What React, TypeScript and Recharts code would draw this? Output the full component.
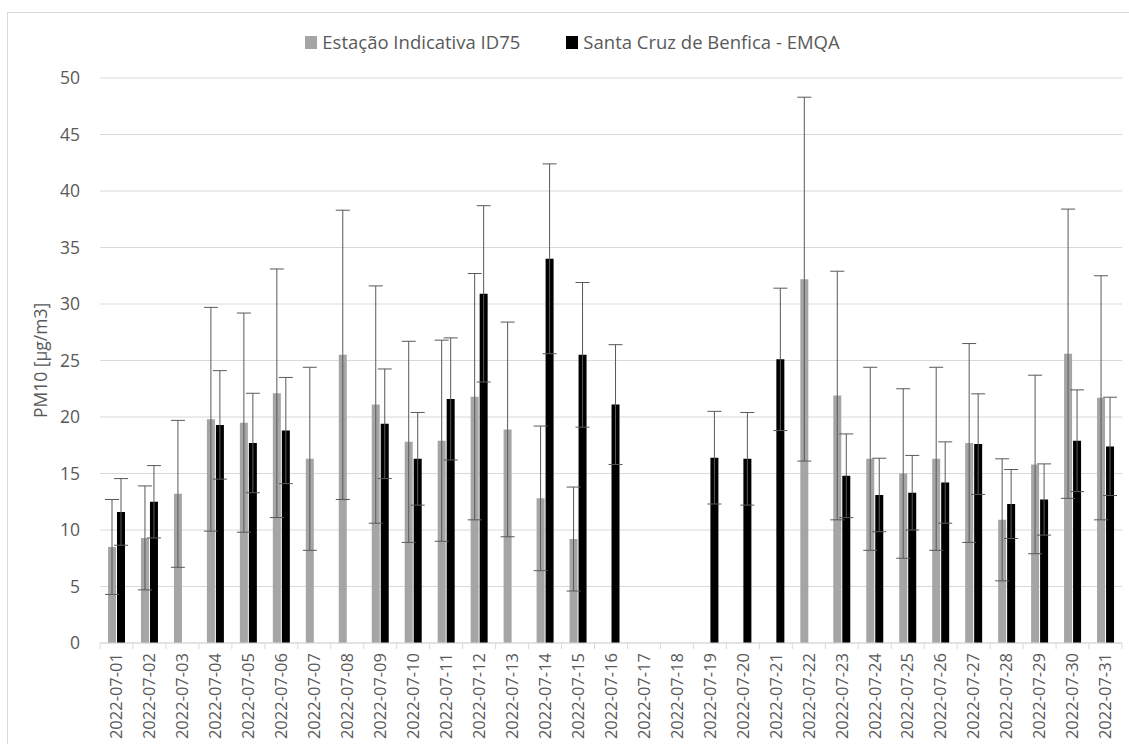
import { BarChart, Bar, XAxis, YAxis, CartesianGrid, Legend, ErrorBar } from "recharts"

const dates = [
  "2022-07-01", "2022-07-02", "2022-07-03", "2022-07-04", "2022-07-05", "2022-07-06", "2022-07-07", "2022-07-08",
  "2022-07-09", "2022-07-10", "2022-07-11", "2022-07-12", "2022-07-13", "2022-07-14", "2022-07-15", "2022-07-16",
  "2022-07-17", "2022-07-18", "2022-07-19", "2022-07-20", "2022-07-21", "2022-07-22", "2022-07-23", "2022-07-24",
  "2022-07-25", "2022-07-26", "2022-07-27", "2022-07-28", "2022-07-29", "2022-07-30", "2022-07-31",
]

// Estação Indicativa ID75 (média diária e desvio padrão)
const id75Mean = [
  8.5, 9.3, 13.2, 19.8, 19.5, 22.1, 16.3, 25.5, 21.1, 17.8, 17.9, 21.8, 18.9, 12.8, 9.2, null,
  null, null, null, null, null, 32.2, 21.9, 16.3, 15.0, 16.3, 17.7, 10.9, 15.8, 25.6, 21.7,
]
const id75Sd = [
  4.2, 4.6, 6.5, 9.9, 9.7, 11.0, 8.1, 12.8, 10.5, 8.9, 8.9, 10.9, 9.5, 6.4, 4.6, null,
  null, null, null, null, null, 16.1, 11.0, 8.1, 7.5, 8.1, 8.8, 5.4, 7.9, 12.8, 10.8,
]

// Santa Cruz de Benfica - EMQA
const emqaMean = [
  11.6, 12.5, null, 19.3, 17.7, 18.8, null, null, 19.4, 16.3, 21.6, 30.9, null, 34.0, 25.5, 21.1,
  null, null, 16.4, 16.3, 25.1, null, 14.8, 13.1, 13.3, 14.2, 17.6, 12.3, 12.7, 17.9, 17.4,
]
const emqaSd = [
  2.95, 3.2, null, 4.8, 4.4, 4.7, null, null, 4.85, 4.1, 5.4, 7.8, null, 8.4, 6.4, 5.3,
  null, null, 4.1, 4.1, 6.3, null, 3.7, 3.25, 3.3, 3.6, 4.45, 3.05, 3.15, 4.5, 4.35,
]

const yTicks = [0, 5, 10, 15, 20, 25, 30, 35, 40, 45, 50]

const seriesNames = ["Estação Indicativa ID75", "Santa Cruz de Benfica - EMQA"]

const data = dates.map((d, i) => ({
  date: d,
  id75: id75Mean[i],
  id75Err: id75Sd[i],
  emqa: emqaMean[i],
  emqaErr: emqaSd[i],
}))

const FONT = "'Open Sans', 'DejaVu Sans', sans-serif"
const TEXT = "#595959"
const LINE = "#d9d9d9"

function DateTick(props: any) {
  const { x, y, payload, index, visibleTicksCount, width } = props
  const half = (width ?? 1023) / visibleTicksCount / 2
  const axisY = y - 8
  return (
    <g>
      <line x1={x - half} x2={x - half} y1={axisY} y2={axisY + 6} stroke={LINE} />
      {index === visibleTicksCount - 1 && (
        <line x1={x + half} x2={x + half} y1={axisY} y2={axisY + 6} stroke={LINE} />
      )}
      <text
        x={x}
        y={y + 2}
        transform={`rotate(-90, ${x}, ${y + 2})`}
        textAnchor="end"
        dy="0.35em"
        fill={TEXT}
        fontSize={16.5}
        fontFamily={FONT}
      >
        {payload.value}
      </text>
    </g>
  )
}

function renderLegend(props: any) {
  const { payload } = props
  return (
    <div
      style={{
        display: "flex",
        justifyContent: "center",
        gap: 46,
        paddingLeft: 16,
        fontFamily: FONT,
        fontSize: 18.5,
        color: TEXT,
        lineHeight: "24px",
      }}
    >
      {payload.map((p: any) => (
        <div key={p.value} style={{ display: "flex", alignItems: "center" }}>
          <span style={{ display: "inline-block", width: 12, height: 13, background: p.color, marginRight: 5 }} />
          <span>{p.value}</span>
        </div>
      ))}
    </div>
  )
}

export default function App() {
  return (
    <div style={{ position: "absolute", left: 0, top: 0, width: 1129, height: 744, background: "#fff", overflow: "hidden" }}>
      <div
        style={{
          position: "absolute",
          left: 7,
          top: 12,
          width: 1140,
          height: 760,
          border: `1px solid ${LINE}`,
        }}
      />
      <BarChart
        width={1129}
        height={744}
        data={data}
        margin={{ top: 78, right: 7, left: 0, bottom: 0 }}
        barSize={8}
        barGap={1}
        style={{ position: "absolute", left: 0, top: 0 }}
      >
        <CartesianGrid vertical={false} stroke={LINE} />
        <XAxis
          dataKey="date"
          interval={0}
          height={101}
          tickSize={6}
          tickMargin={2}
          tickLine={false}
          axisLine={{ stroke: LINE }}
          tick={<DateTick />}
        />
        <YAxis
          width={100}
          domain={[0, 50]}
          ticks={yTicks}
          interval={0}
          axisLine={false}
          tickLine={false}
          tickSize={0}
          tickMargin={20}
          tick={{ fill: TEXT, fontSize: 17.5, fontFamily: FONT }}
          label={{
            value: "PM10 [µg/m3]",
            angle: -90,
            position: "center",
            dx: -9,
            fill: TEXT,
            fontSize: 17.5,
            fontFamily: FONT,
          }}
        />
        <Legend verticalAlign="middle" wrapperStyle={{ top: 30, left: 0, width: 1129 }} content={renderLegend} />
        <Bar dataKey="id75" name={seriesNames[0]} fill="#a5a5a5" isAnimationActive={false}>
          <ErrorBar dataKey="id75Err" width={7} stroke="#595959" strokeWidth={1} direction="y" />
        </Bar>
        <Bar dataKey="emqa" name={seriesNames[1]} fill="#000000" isAnimationActive={false}>
          <ErrorBar dataKey="emqaErr" width={7} stroke="#595959" strokeWidth={1} direction="y" />
        </Bar>
      </BarChart>
    </div>
  )
}
